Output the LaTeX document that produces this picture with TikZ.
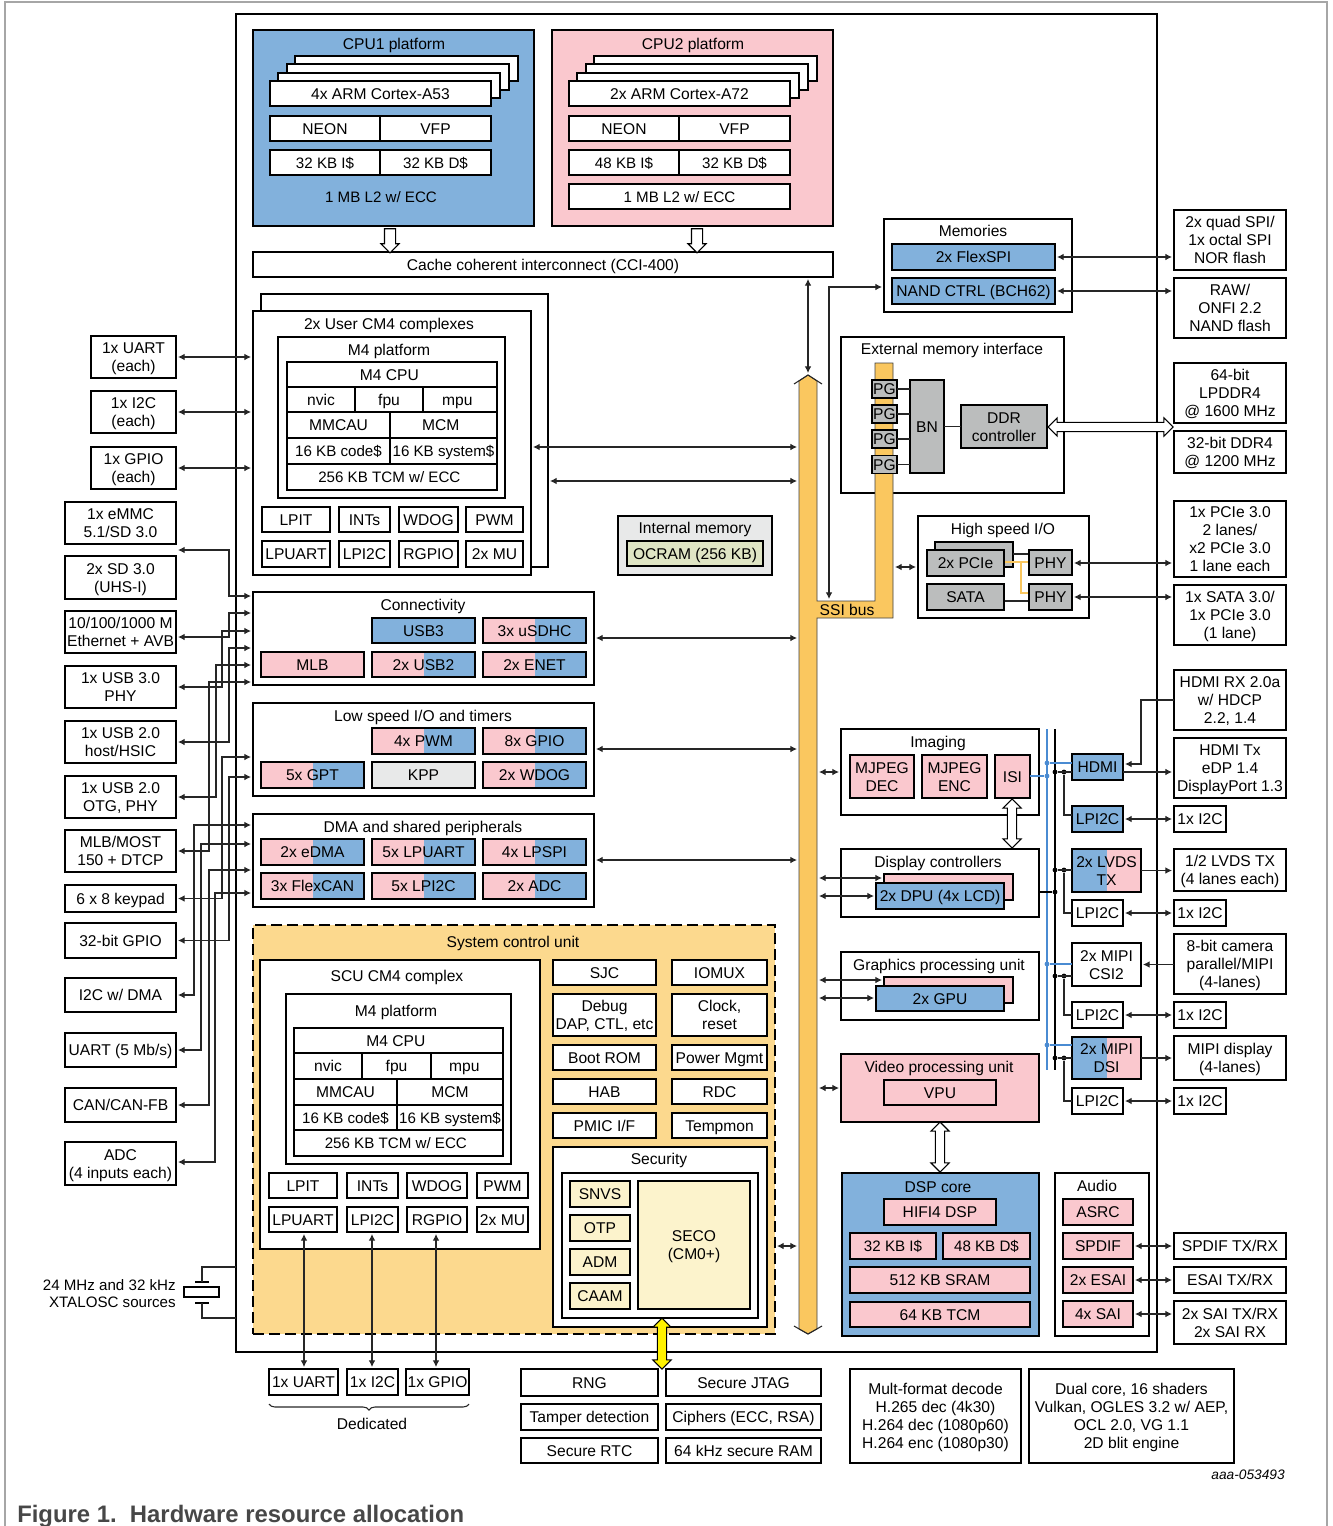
\documentclass[tikz,border=0pt]{standalone}
\usepackage{fontspec}
\setmainfont{Liberation Sans}
\usetikzlibrary{arrows.meta,shapes.arrows,decorations.pathreplacing}

\definecolor{nxpblue}{HTML}{82B1DC}
\definecolor{nxppink}{HTML}{FAC8CE}
\definecolor{busorange}{HTML}{FAC75F}
\definecolor{scuorange}{HTML}{FCD98E}
\definecolor{seccream}{HTML}{FCF3CC}
\definecolor{pwrgray}{HTML}{BBBDBD}
\definecolor{palegray}{HTML}{E8E9E9}
\definecolor{palegreen}{HTML}{DFE5C4}
\definecolor{linkblue}{HTML}{4A8BD2}

\tikzset{
  every node/.style={font=\fontsize{11.7}{13.5}\selectfont},
  lab/.style={inner sep=0pt,align=center,execute at begin node={\rule{0pt}{10.75pt}},execute at end node={\rule[-2.3pt]{0pt}{2.3pt}}},
  nudgeleft/.style={execute at begin node={\hspace*{-4pt}}},
  block/.style={inner sep=0pt,align=center,draw=black,fill=white,line width=1.5pt,outer sep=0pt},
  tight/.style={font=\fontsize{11.35}{13.5}\selectfont},
  blue/.style={fill=nxpblue},
  pink/.style={fill=nxppink},
  gray/.style={fill=pwrgray},
  cream/.style={fill=seccream},
  pinkblue/.style={fill=nxppink,path picture={\fill[nxpblue] (path picture bounding box.south) rectangle (path picture bounding box.north east);}},
  bluepink/.style={fill=nxppink,path picture={\fill[nxpblue] (path picture bounding box.south) rectangle (path picture bounding box.north west);}},
  wire/.style={line width=0.8pt,draw=black!85},
  link/.style={wire,{Latex[length=5pt,width=5pt]}-{Latex[length=5pt,width=5pt]},shorten <=1.5pt,shorten >=1.5pt},
  linkto/.style={wire,-{Latex[length=5pt,width=5pt]},shorten >=1.5pt},
  bluewire/.style={line width=1pt,draw=linkblue},
  orangewire/.style={line width=1pt,draw=busorange},
  blackdot/.style={circle,fill=black,inner sep=0pt,minimum size=3.6pt},
  bluedot/.style={circle,fill=linkblue,inner sep=0pt,minimum size=3.6pt},
  fatboth/.style={double arrow,draw=black,fill=white,line width=0.8pt,inner xsep=0pt,inner ysep=3.1pt,outer sep=0pt,double arrow head extend=3.3pt},
  fatdown/.style={single arrow,draw=black,fill=white,line width=0.8pt,inner xsep=0pt,inner ysep=3.75pt,outer sep=0pt,single arrow head extend=2.6pt,rotate=-90},
  crystal/.style={draw=black,fill=white,line width=0.8pt,inner sep=0pt,minimum width=26.25pt,minimum height=7.5pt},
}

\newcommand{\blk}[7][]{%
  \pgfmathsetmacro\blkw{0.75*(#5-#3)}%
  \pgfmathsetmacro\blkh{0.75*(#6-#4)}%
  \node[block,minimum width=\blkw pt,minimum height=\blkh pt,#1] (#2) at ({(#3+#5)/2},{(#4+#6)/2}) {\rule{0pt}{10.75pt}#7\rule[-2.3pt]{0pt}{2.3pt}};}

\begin{document}
\begin{tikzpicture}[x=0.75pt,y=-0.75pt]
    \useasboundingbox (0,0) rectangle (1333,1526);
    \draw[line width=0.9pt,draw=black!35] (5,1526) -- (5,2) -- (1327,2) -- (1327,1526);

    \blk{chip}{236}{14}{1157}{1352}{}

    \blk[blue]{cpuone}{253}{30}{534}{226}{}
    \node[lab] (cpuonelab) at (394,44) {CPU1 platform};
    \blk{aoneb}{295}{56}{518}{81}{}
    \blk{aonec}{287}{64}{509}{90}{}
    \blk{aoned}{278}{73}{500}{98}{}
    \blk{aonea}{270}{81}{491}{106}{4x ARM Cortex-A53}
    \blk{neonone}{270}{116}{380}{141}{NEON}
    \blk{vfpone}{380}{116}{491}{141}{VFP}
    \blk[tight]{icone}{270}{150}{380}{175}{32 KB I\$}
    \blk[tight]{dcone}{380}{150}{491}{175}{32 KB D\$}
    \node[lab,tight] (ltwoone) at (381,197) {1 MB L2 w/ ECC};

    \blk[pink]{cputwo}{552}{30}{833}{226}{}
    \node[lab] (cputwolab) at (693,44) {CPU2 platform};
    \blk{atwob}{594}{56}{817}{81}{}
    \blk{atwoc}{586}{64}{808}{90}{}
    \blk{atwod}{577}{73}{799}{98}{}
    \blk{atwoa}{569}{81}{790}{106}{2x ARM Cortex-A72}
    \blk{neontwo}{569}{116}{679}{141}{NEON}
    \blk{vfptwo}{679}{116}{790}{141}{VFP}
    \blk[tight]{ictwo}{569}{150}{679}{175}{48 KB I\$}
    \blk[tight]{dctwo}{679}{150}{790}{175}{32 KB D\$}
    \blk[tight]{ltwotwo}{569}{184}{790}{209}{1 MB L2 w/ ECC}

    \blk{cci}{253}{252}{833}{277}{Cache coherent interconnect (CCI-400)}
    \node[fatdown,minimum height=18pt] (cpuonearrow) at (390,238) {};
    \node[fatdown,minimum height=18pt] (cputwoarrow) at (697,238) {};

    \blk{cmback}{261}{294}{548}{567}{}
    \blk{cmfront}{253}{311}{531}{575}{}
    \node[lab] (cmlab) at (389,324) {2x User CM4 complexes};
    \blk{mplat}{278}{337}{505}{498}{}
    \node[lab] (mplatlab) at (389,350) {M4 platform};
    \blk[nudgeleft]{mcpu}{287}{362}{497}{387}{M4 CPU}
    \blk{mnvic}{287}{387}{355}{412}{nvic}
    \blk{mfpu}{355}{387}{423}{412}{fpu}
    \blk[nudgeleft]{mmpu}{423}{387}{497}{412}{mpu}
    \blk{mmau}{287}{412}{390}{438}{MMCAU}
    \blk[nudgeleft]{mmcm}{390}{412}{497}{438}{MCM}
    \blk[tight]{mcode}{287}{438}{390}{464}{16 KB code\$}
    \blk[tight]{msys}{390}{438}{497}{464}{16 KB system\$}
    \blk[tight,nudgeleft]{mtcm}{287}{464}{497}{490}{256 KB TCM w/ ECC}
    \blk{ulpit}{262}{507}{330}{532}{LPIT}
    \blk{uints}{339}{507}{390}{532}{INTs}
    \blk{uwdog}{399}{507}{458}{532}{WDOG}
    \blk{upwm}{466}{507}{523}{532}{PWM}
    \blk{ulpuart}{262}{541}{330}{567}{LPUART}
    \blk{ulpi}{339}{541}{390}{567}{LPI2C}
    \blk{urgpio}{399}{541}{458}{567}{RGPIO}
    \blk{umu}{466}{541}{523}{567}{2x MU}

    \blk[fill=palegray]{intmem}{618}{516}{772}{575}{}
    \node[lab] (intmemlab) at (695,528) {Internal memory};
    \blk[fill=palegreen]{ocram}{627}{541}{763}{566}{OCRAM (256 KB)}

    \blk{conn}{253}{592}{594}{685}{}
    \node[lab] (connlab) at (423,605) {Connectivity};
    \blk[blue]{usbthree}{372}{618}{475}{643}{USB3}
    \blk[pinkblue]{usdhc}{483}{618}{586}{643}{3x uSDHC}
    \blk[pink]{mlb}{261}{652}{364}{677}{MLB}
    \blk[pinkblue]{usbtwo}{372}{652}{475}{677}{2x USB2}
    \blk[pinkblue]{enet}{483}{652}{586}{677}{2x ENET}

    \blk{lowio}{253}{703}{594}{796}{}
    \node[lab] (lowiolab) at (423,716) {Low speed I/O and timers};
    \blk[pinkblue]{pwm}{372}{728}{475}{754}{4x PWM}
    \blk[pinkblue]{gpio}{483}{728}{586}{754}{8x GPIO}
    \blk[pinkblue]{gpt}{261}{762}{364}{788}{5x GPT}
    \blk[fill=palegray]{kpp}{372}{762}{475}{788}{KPP}
    \blk[pinkblue]{wdog}{483}{762}{586}{788}{2x WDOG}

    \blk{dmaper}{253}{814}{594}{907}{}
    \node[lab] (dmaperlab) at (423,827) {DMA and shared peripherals};
    \blk[pinkblue]{edma}{261}{839}{364}{865}{2x eDMA}
    \blk[pinkblue]{lpuart}{372}{839}{475}{865}{5x LPUART}
    \blk[pinkblue]{lpspi}{483}{839}{586}{865}{4x LPSPI}
    \blk[pinkblue]{flexcan}{261}{873}{364}{899}{3x FlexCAN}
    \blk[pinkblue]{lpitwo}{372}{873}{475}{899}{5x LPI2C}
    \blk[pinkblue]{adc}{483}{873}{586}{899}{2x ADC}

    \blk[fill=scuorange,dashed,dash pattern=on 8pt off 4pt]{scu}{253}{925}{775}{1334}{}
    \node[lab] (sculab) at (513,942) {System control unit};
    \blk{scucm}{260}{960}{540}{1249}{}
    \node[lab] (scucmlab) at (397,976) {SCU CM4 complex};
    \blk{splat}{286}{994}{511}{1164}{}
    \node[lab] (splatlab) at (396,1011) {M4 platform};
    \blk[nudgeleft]{scpu}{294}{1028}{503}{1053}{M4 CPU}
    \blk{snvic}{294}{1053}{362}{1079}{nvic}
    \blk{sfpu}{362}{1053}{431}{1079}{fpu}
    \blk[nudgeleft]{smpu}{431}{1053}{503}{1079}{mpu}
    \blk{smau}{294}{1079}{397}{1105}{MMCAU}
    \blk{smcm}{397}{1079}{503}{1105}{MCM}
    \blk[tight]{scode}{294}{1105}{397}{1130}{16 KB code\$}
    \blk[tight]{ssys}{397}{1105}{503}{1130}{16 KB system\$}
    \blk[tight,nudgeleft]{stcm}{294}{1130}{503}{1156}{256 KB TCM w/ ECC}
    \blk{slpit}{269}{1173}{337}{1198}{LPIT}
    \blk{sints}{347}{1173}{398}{1198}{INTs}
    \blk{swdog}{407}{1173}{467}{1198}{WDOG}
    \blk{spwm}{477}{1173}{528}{1198}{PWM}
    \blk{slpuart}{269}{1207}{337}{1232}{LPUART}
    \blk{slpi}{347}{1207}{398}{1232}{LPI2C}
    \blk{srgpio}{407}{1207}{467}{1232}{RGPIO}
    \blk{smu}{477}{1207}{528}{1232}{2x MU}

    \blk{sjc}{553}{960}{656}{985}{SJC}
    \blk{iomux}{672}{960}{767}{985}{IOMUX}
    \blk{debug}{553}{994}{656}{1036}{Debug\\DAP, CTL, etc}
    \blk{clock}{672}{994}{767}{1036}{Clock,\\reset}
    \blk{bootrom}{553}{1045}{656}{1070}{Boot ROM}
    \blk{pwrmgmt}{672}{1045}{767}{1070}{Power Mgmt}
    \blk{hab}{553}{1079}{656}{1104}{HAB}
    \blk{rdc}{672}{1079}{767}{1104}{RDC}
    \blk{pmic}{553}{1113}{656}{1138}{PMIC I/F}
    \blk{tempmon}{672}{1113}{767}{1138}{Tempmon}
    \blk{secur}{553}{1147}{767}{1327}{}
    \node[lab] (securlab) at (659,1159) {Security};
    \blk{secin}{562}{1173}{758}{1318}{}
    \blk[cream]{snvs}{570}{1181}{630}{1207}{SNVS}
    \blk[cream]{otp}{570}{1215}{630}{1241}{OTP}
    \blk[cream]{adm}{570}{1249}{630}{1275}{ADM}
    \blk[cream]{caam}{570}{1283}{630}{1309}{CAAM}
    \blk[cream]{seco}{638}{1181}{750}{1309}{SECO\\(CM0+)}

    \blk{memories}{884}{219}{1072}{312}{}
    \node[lab] (memlab) at (973,231) {Memories};
    \blk[blue]{flexspi}{892}{244}{1055}{270}{2x FlexSPI}
    \blk[blue]{nand}{892}{278}{1055}{304}{NAND CTRL (BCH62)}

    \blk{extmem}{841}{337}{1064}{493}{}
    \node[lab] (extmemlab) at (952,349) {External memory interface};

    \draw[fill=busorange,line width=0.6pt,draw=black!75] (808,375) -- (817,381) -- (817,601) -- (875,601) -- (875,363) -- (893,363) -- (893,618) -- (817,618) -- (817,1329) -- (808,1334) -- (799,1329) -- (799,381) -- cycle;
    \draw[wire] (794,384) -- (808,375) -- (822,384);
    \draw[wire] (794,1326) -- (808,1334) -- (822,1326);
    \coordinate (busleft) at (799,800);
    \coordinate (busright) at (817,800);
    \coordinate (armright) at (893,618);
    \coordinate (bustop) at (808,375);
    \coordinate (ssitop) at (829,601);
    \node[lab] (ssilab) at (847,610) {SSI bus};

    \blk[gray,line width=0.8pt]{pga}{872}{380}{897}{398}{PG}
    \blk[gray,line width=0.8pt]{pgb}{872}{405}{897}{423}{PG}
    \blk[gray,line width=0.8pt]{pgc}{872}{430}{897}{448}{PG}
    \blk[gray,line width=0.8pt]{pgd}{872}{456}{897}{473}{PG}
    \blk[gray,line width=1.2pt]{bn}{910}{380}{944}{473}{BN}
    \blk[gray,line width=1.2pt]{ddr}{961}{405}{1047}{448}{DDR\\controller}
    \draw[wire] (pga) -- (pga -| bn.west);
    \draw[wire] (pgb) -- (pgb -| bn.west);
    \draw[wire] (pgc) -- (pgc -| bn.west);
    \draw[wire] (pgd) -- (pgd -| bn.west);
    \draw[wire] (ddr.west) -- (ddr.west -| bn.east);

    \blk{hsio}{918}{516}{1089}{618}{}
    \node[lab] (hsiolab) at (1003,529) {High speed I/O};
    \blk[gray]{pcieback}{935}{542}{1013}{567}{}
    \draw[wire] (pcieback.east |- 0,554) -- (1029,554);
    \draw[wire] (1004,601) -- (1029,601);
    \draw[orangewire] (1004,562) -- (1029,562);
    \draw[orangewire] (1021,562) |- (1029,593);
    \blk[gray]{pcie}{927}{550}{1004}{576}{2x PCIe}
    \blk[gray]{sata}{927}{584}{1004}{610}{SATA}
    \blk[gray]{phya}{1029}{550}{1072}{575}{PHY}
    \blk[gray]{phyb}{1029}{584}{1072}{610}{PHY}

    \blk{imaging}{841}{729}{1039}{815}{}
    \node[lab] (imaginglab) at (938,742) {Imaging};
    \blk[pink]{mjdec}{850}{755}{914}{798}{MJPEG\\DEC}
    \blk[pink]{mjenc}{922}{755}{987}{798}{MJPEG\\ENC}
    \blk[pink]{isi}{995}{755}{1030}{798}{ISI}

    \blk{display}{841}{849}{1039}{917}{}
    \node[lab] (displaylab) at (938,862) {Display controllers};
    \blk[pink]{dpuback}{884}{874}{1013}{900}{}
    \blk[blue]{dpu}{876}{883}{1004}{909}{2x DPU (4x LCD)}

    \blk{gpubox}{841}{952}{1039}{1020}{}
    \node[lab] (gpulab) at (939,965) {Graphics processing unit};
    \blk[pink]{gpuback}{884}{977}{1013}{1003}{}
    \blk[blue]{gpu}{876}{986}{1004}{1011}{2x GPU}

    \blk[pink]{vpubox}{841}{1054}{1039}{1122}{}
    \node[lab] (vpulab) at (939,1067) {Video processing unit};
    \blk[pink]{vpu}{884}{1080}{996}{1105}{VPU}

    \blk[blue]{dsp}{842}{1173}{1039}{1336}{}
    \node[lab] (dsplab) at (938,1187) {DSP core};
    \blk[pink]{hifi}{884}{1199}{996}{1225}{HIFI4 DSP}
    \blk[pink,tight]{dspic}{850}{1233}{936}{1259}{32 KB I\$}
    \blk[pink,tight]{dspdc}{943}{1233}{1030}{1259}{48 KB D\$}
    \blk[pink]{dspram}{850}{1267}{1030}{1293}{512 KB SRAM}
    \blk[pink]{dsptcm}{850}{1302}{1030}{1327}{64 KB TCM}

    \blk{audio}{1055}{1173}{1149}{1336}{}
    \node[lab] (audiolab) at (1097,1186) {Audio};
    \blk[pink]{asrc}{1063}{1199}{1133}{1225}{ASRC}
    \blk[pink]{spdif}{1063}{1233}{1133}{1259}{SPDIF}
    \blk[pink]{esai}{1063}{1267}{1133}{1293}{2x ESAI}
    \blk[pink]{sai}{1063}{1301}{1133}{1327}{4x SAI}

    \blk[blue]{hdmi}{1072}{754}{1123}{780}{HDMI}
    \blk[blue]{lpia}{1072}{806}{1123}{832}{LPI2C}
    \blk[bluepink]{lvds}{1072}{849}{1141}{892}{2x LVDS\\TX}
    \blk{lpib}{1072}{900}{1123}{926}{LPI2C}
    \blk{csi}{1072}{943}{1141}{986}{2x MIPI\\CSI2}
    \blk{lpic}{1072}{1002}{1123}{1028}{LPI2C}
    \blk[bluepink]{dsi}{1072}{1037}{1141}{1079}{2x MIPI\\DSI}
    \blk{lpid}{1072}{1088}{1123}{1114}{LPI2C}

    \blk{exquad}{1174}{210}{1286}{270}{2x quad SPI/\\1x octal SPI\\NOR flash}
    \blk{exraw}{1174}{278}{1286}{338}{RAW/\\ONFI 2.2\\NAND flash}
    \blk{exlpddr}{1174}{363}{1286}{423}{64-bit\\LPDDR4\\@ 1600 MHz}
    \blk{exddr}{1174}{431}{1286}{473}{32-bit DDR4\\@ 1200 MHz}
    \blk{expcie}{1174}{501}{1286}{577}{1x PCIe 3.0\\2 lanes/\\x2 PCIe 3.0\\1 lane each}
    \blk{exsata}{1174}{585}{1286}{645}{1x SATA 3.0/\\1x PCIe 3.0\\(1 lane)}
    \blk{exhdmirx}{1174}{670}{1286}{730}{HDMI RX 2.0a\\w/ HDCP\\2.2, 1.4}
    \blk{exhdmitx}{1174}{738}{1286}{798}{HDMI Tx\\eDP 1.4\\DisplayPort 1.3}
    \blk{exia}{1174}{806}{1226}{832}{1x I2C}
    \blk{exlvds}{1174}{849}{1286}{891}{1/2 LVDS TX\\(4 lanes each)}
    \blk{exib}{1174}{900}{1226}{926}{1x I2C}
    \blk{excam}{1174}{934}{1286}{994}{8-bit camera\\parallel/MIPI\\(4-lanes)}
    \blk{exic}{1174}{1002}{1226}{1028}{1x I2C}
    \blk{exmipi}{1174}{1036}{1286}{1080}{MIPI display\\(4-lanes)}
    \blk{exid}{1174}{1088}{1226}{1114}{1x I2C}
    \blk{exspdif}{1174}{1233}{1286}{1259}{SPDIF TX/RX}
    \blk{exesai}{1174}{1267}{1286}{1293}{ESAI TX/RX}
    \blk{exsai}{1174}{1301}{1286}{1344}{2x SAI TX/RX\\2x SAI RX}

    \blk{leuart}{91}{336}{176}{378}{1x UART\\(each)}
    \blk{lei}{91}{391}{176}{433}{1x I2C\\(each)}
    \blk{legpio}{91}{447}{176}{489}{1x GPIO\\(each)}
    \blk{lemmc}{65}{502}{176}{544}{1x eMMC\\5.1/SD 3.0}
    \blk{lesd}{65}{556}{176}{599}{2x SD 3.0\\(UHS-I)}
    \blk{leeth}{65}{611}{176}{653}{10/100/1000 M\\Ethernet + AVB}
    \blk{leusbp}{65}{666}{176}{708}{1x USB 3.0\\PHY}
    \blk{leusbh}{65}{721}{176}{763}{1x USB 2.0\\host/HSIC}
    \blk{leusbo}{65}{776}{176}{818}{1x USB 2.0\\OTG, PHY}
    \blk{lemlb}{65}{830}{176}{872}{MLB/MOST\\150 + DTCP}
    \blk{lekey}{65}{885}{176}{912}{6 x 8 keypad}
    \blk{legp}{65}{923}{176}{958}{32-bit GPIO}
    \blk{leidma}{65}{978}{176}{1012}{I2C w/ DMA}
    \blk{leufive}{65}{1033}{176}{1067}{UART (5 Mb/s)}
    \blk{lecan}{65}{1088}{176}{1122}{CAN/CAN-FB}
    \blk{leadc}{65}{1142}{176}{1185}{ADC\\(4 inputs each)}

    \blk{deduart}{269}{1369}{338}{1395}{1x UART}
    \blk{dedi}{347}{1369}{398}{1395}{1x I2C}
    \blk{dedgpio}{406}{1369}{469}{1395}{1x GPIO}
    \draw[wire,decorate,decoration={brace,mirror,amplitude=4.5pt}] (deduart.south west |- 0,1404) -- (dedgpio.south east |- 0,1404);
    \node[lab] (dedlab) at (372,1424) {Dedicated};

    \blk{rng}{521}{1369}{658}{1396}{RNG}
    \blk{jtag}{666}{1369}{821}{1396}{Secure JTAG}
    \blk{tamper}{521}{1404}{658}{1430}{Tamper detection}
    \blk{cipher}{666}{1404}{821}{1430}{Ciphers (ECC, RSA)}
    \blk{srtc}{521}{1438}{658}{1463}{Secure RTC}
    \blk{secram}{666}{1438}{821}{1463}{64 kHz secure RAM}
    \blk{multi}{850}{1369}{1021}{1463}{Mult-format decode\\H.265 dec (4k30)\\H.264 dec (1080p60)\\H.264 enc (1080p30)}
    \blk{dualcore}{1029}{1369}{1234}{1463}{Dual core, 16 shaders\\Vulkan, OGLES 3.2 w/ AEP,\\OCL 2.0, VG 1.1\\2D blit engine}
    \node[anchor=east,inner sep=0pt,font=\fontsize{10.3}{12}\itshape] (docid) at (1285,1475) {aaa-053493};
    \node[anchor=west,inner sep=0pt,font=\fontsize{17.9}{21}\bfseries,text=black!72] (caption) at (17,1516) {Figure 1.\ \ Hardware resource allocation};

    \draw[link] (leuart.east) -- (leuart.east -| cmfront.west);
    \draw[link] (lei.east) -- (lei.east -| cmfront.west);
    \draw[link] (legpio.east) -- (legpio.east -| cmfront.west);
    \draw[link] (lemmc.east |- 0,550) -| (229,596) -- (conn.west |- 0,596);
    \draw[link] (leeth.east |- 0,637) -| (229,613) -- (conn.west |- 0,613);
    \draw[link] (leusbp.east) -| (222,631) -- (conn.west |- 0,631);
    \draw[link] (leusbh.east) -| (229,648) -- (conn.west |- 0,648);
    \draw[link] (leusbo.east) -| (216,665) -- (conn.west |- 0,665);
    \draw[link] (lemlb.east) -| (209,682) -- (conn.west |- 0,682);
    \draw[link] (lekey.east) -| (222,757) -- (lowio.west |- 0,757);
    \draw[link] (legp.east) -| (229,777) -- (lowio.west |- 0,777);
    \draw[link] (leidma.east) -| (194,825) -- (dmaper.west |- 0,825);
    \draw[link] (leufive.east) -| (201,844) -- (dmaper.west |- 0,844);
    \draw[link] (lecan.east) -| (209,870) -- (dmaper.west |- 0,870);
    \draw[link] (leadc.east |- 0,1162) -| (215,893) -- (dmaper.west |- 0,893);

    \draw[link] (cmfront.east |- 0,447) -- (busleft |- 0,447);
    \draw[link] (cmback.east |- 0,481) -- (busleft |- 0,481);
    \draw[link] (conn.east |- 0,638) -- (busleft |- 0,638);
    \draw[link] (lowio.east |- 0,749) -- (busleft |- 0,749);
    \draw[link] (dmaper.east |- 0,860) -- (busleft |- 0,860);
    \draw[link] (scu.east |- 0,1246) -- (busleft |- 0,1246);
    \draw[link] (cci.south -| bustop) -- (bustop);
    \draw[link] (ssitop) |- (memories.west |- 0,287);
    \draw[link] (armright |- 0,567) -- (hsio.west |- 0,567);
    \draw[link] (busright |- imaging.west) -- (imaging.west);
    \draw[link] (busright |- 0,878) -- (dpuback.west |- 0,878);
    \draw[link] (busright |- 0,896) -- (dpu.west |- 0,896);
    \draw[link] (busright |- 0,980) -- (gpuback.west |- 0,980);
    \draw[link] (busright |- 0,998) -- (gpu.west |- 0,998);
    \draw[link] (busright |- vpubox.west) -- (vpubox.west);

    \draw[link] (flexspi.east |- 0,257) -- (exquad.west |- 0,257);
    \draw[link] (nand.east |- 0,291) -- (exraw.west |- 0,291);
    \draw[link] (phya.east |- 0,563) -- (expcie.west |- 0,563);
    \draw[link] (phyb.east |- 0,597) -- (exsata.west |- 0,597);
    \draw[link] (spdif.east) -- (exspdif.west);
    \draw[link] (esai.east) -- (exesai.west);
    \draw[link] (sai.east |- 0,1314) -- (exsai.west |- 0,1314);

    \draw[link] (slpuart.south -| 304,0) -- (deduart.north -| 304,0);
    \draw[link] (slpi.south -| 372,0) -- (dedi.north -| 372,0);
    \draw[link] (srgpio.south -| 436,0) -- (dedgpio.north -| 436,0);

    \node[fatboth,minimum height=93.75pt] (ddrbus) at (1110.5,427) {};
    \node[fatboth,minimum height=36.75pt,rotate=90] (isibus) at (1012,823.5) {};
    \node[fatboth,minimum height=37.5pt,rotate=90] (dspbus) at (940,1147) {};
    \node[fatboth,fill=yellow,minimum height=38.25pt,rotate=90] (secbus) at (662,1343.5) {};

    \coordinate (blacktop) at (1055,729);
    \coordinate (blackbot) at (1055,1070);
    \coordinate (bluetop) at (1047,729);
    \coordinate (bluebot) at (1047,1070);
    \draw[line width=1.5pt] (blacktop) -- (blackbot);
    \draw[line width=1.5pt,draw=linkblue] (bluetop) -- (bluebot);

    \node[bluedot] (dotisi) at (1047,776) {};
    \node[bluedot] (dothdmi) at (1047,763) {};
    \node[bluedot] (dotcsi) at (1047,964) {};
    \node[bluedot] (dotdsi) at (1047,1045) {};
    \draw[line width=1.5pt,draw=linkblue] (isi.east |- dotisi) -- (dotisi);
    \draw[bluewire] (dothdmi) -- (hdmi.west |- dothdmi);
    \draw[bluewire] (dotcsi) -- (csi.west |- dotcsi);
    \draw[bluewire] (dotdsi) -- (dsi.west |- dotdsi);

    \node[blackdot] (hdmia) at (1055,772) {};
    \node[blackdot] (hdmib) at (1064,772) {};
    \node[blackdot] (lvdsa) at (1055,870) {};
    \node[blackdot] (lvdsb) at (1064,870) {};
    \node[blackdot] (csia) at (1055,976) {};
    \node[blackdot] (csib) at (1064,976) {};
    \node[blackdot] (dsia) at (1055,1058) {};
    \node[blackdot] (dsib) at (1064,1058) {};
    \node[blackdot] (dispdot) at (1055,892) {};
    \draw[line width=1.5pt] (display.east |- dispdot) -- (dispdot);
    \draw[wire] (hdmia) -- (hdmi.west |- hdmia);
    \draw[wire] (lvdsa) -- (lvds.west |- lvdsa);
    \draw[wire] (csia) -- (csi.west |- csia);
    \draw[wire] (dsia) -- (dsi.west |- dsia);
    \draw[wire] (hdmib) |- (lpia.west |- 0,815);
    \draw[wire] (lvdsb) |- (lpib.west);
    \draw[wire] (csib) |- (lpic.west);
    \draw[wire] (dsib) |- (lpid.west);

    \draw[linkto] (exhdmirx.west) -| (1141,764) -- (hdmi.east |- 0,764);
    \draw[linkto] (hdmi.east |- 0,772) -- (exhdmitx.west |- 0,772);
    \draw[link] (lpia.east) -- (exia.west);
    \draw[linkto] (lvds.east) -- (lvds.east -| exlvds.west);
    \draw[link] (lpib.east) -- (exib.west);
    \draw[linkto] (excam.west |- csi.east) -- (csi.east);
    \draw[link] (lpic.east) -- (exic.west);
    \draw[linkto] (dsi.east |- 0,1058) -- (exmipi.west |- 0,1058);
    \draw[link] (lpid.east) -- (exid.west);

    \node[crystal] (xtal) at (201.5,1292) {};
    \coordinate (xtaltop) at (202,1282);
    \coordinate (xtalbot) at (202,1303);
    \draw[line width=1.6pt] (195,1282) -- (209,1282);
    \draw[line width=1.6pt] (195,1303) -- (209,1303);
    \draw[wire] (xtaltop) |- (chip.west |- 0,1267);
    \draw[wire] (xtalbot) |- (chip.west |- 0,1318);
    \node[inner sep=0pt,align=right,anchor=east,font=\fontsize{11.35}{12.75}\selectfont] (xtallab) at (176,1293.5) {\rule{0pt}{10.75pt}24 MHz and 32 kHz\\XTALOSC sources\rule[-2.3pt]{0pt}{2.3pt}};
\end{tikzpicture}
\end{document}
